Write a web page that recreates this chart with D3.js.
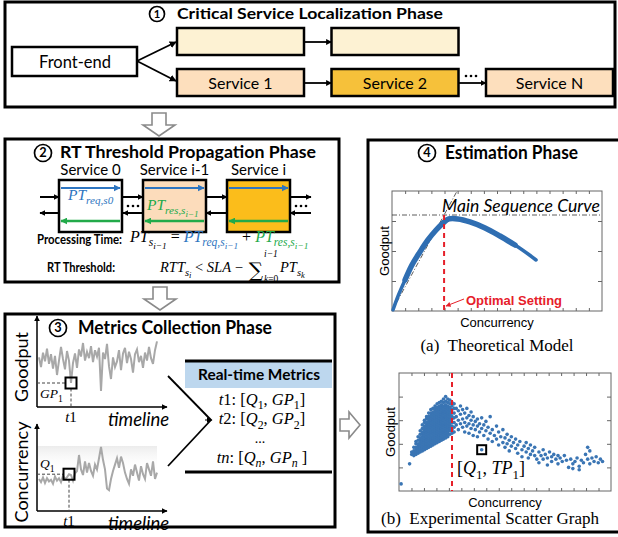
<!DOCTYPE html>
<html>
<head>
<meta charset="utf-8">
<script src="https://cdn.jsdelivr.net/npm/d3@7"></script>
<style>
  body { margin: 0; background: #fff; }
  svg { display: block; }
</style>
</head>
<body>
<div id="fig"></div>
<script>
// ---------- data ----------
var topRowLabels = ["", ""];
var bottomRowLabels = ["Service 1", "Service 2", "Service N"];
var rtServices = ["Service 0", "Service i-1", "Service i"];

// goodput / concurrency samples over the timeline (phase 3)
var goodputSeries = [62,50,68,57,73,54,66,48,64,40, 58,75,60,47,70,58,30,55,67,49,
                     72,63,80,58,69,61,76,56,71,63, 74,20,68,60,79,51,35,62,50,57,
                     71,46,67,74,55,69,60,43,66,72, 56,64,49,68,58,75,61,54,71,82];
var concurrencySeries = [40,36,42,35,41,37,39,34,43,38, 41,36,44,40,42,46,45,38,47,50,
                         70,52,45,62,48,60,50,44,58,52, 66,80,64,52,28,26,40,50,58,66,
                         54,68,60,48,40,34,52,44,58,48, 38,56,46,40,60,52,44,62,40,48];
var gpSampleIdx = 16, qSampleIdx = 15;
var metricTimes = ["t", "t", "...", "t"];
var metricIdx = ["1", "2", "", "n"];

// theoretical main sequence curve [concurrency, goodput]
var theoryCurve = [[0.5,1],[2.9,12.5],[6.2,25.8],[9.5,38.3],[13.3,49.2],[17.1,59.2],
                   [21,67.5],[24.3,73.3],[27.1,76.7],[31.4,76.7],[37.1,74.2],[44.3,69.2],
                   [51.4,62.5],[58.6,55],[64.8,47.5],[68.6,42.5]];
var theoryOptimal = 24.8;
var theoryPeakLevel = 80;
var theorySlope = [[0, 0], [31, 100]];

// experimental scatter: dense cluster columns [concurrency, [goodput...]]
var clusterCols = [
  [6, [31,33]],
  [7, [30,32,34,37]],
  [8, [31,33,35,37,40,42]],
  [9, [32,34,36,38,40,43,46]],
  [10, [33,35,37,39,41,43,45,48,51]],
  [11, [34,36,38,40,42,44,46,48,50,53,56]],
  [12, [35,37,39,41,43,45,47,49,51,53,55,58,60]],
  [13, [36,38,40,42,44,46,48,50,52,54,56,58,61,63]],
  [14, [37,39,41,43,45,47,49,51,53,55,57,59,61,63,66]],
  [15, [38,40,42,44,46,48,50,52,54,56,58,60,62,64,66,69]],
  [16, [39,41,43,45,47,49,51,53,55,57,59,61,63,65,67,70]],
  [17, [40,42,44,46,48,50,52,54,56,58,60,62,64,66,68,70,72]],
  [18, [41,43,45,47,49,51,53,55,57,59,61,63,65,67,69,71,74]],
  [19, [42,44,46,48,50,52,54,56,58,60,62,64,66,68,70,72,75]],
  [20, [43,45,47,49,51,53,55,57,59,61,63,65,67,69,71,73,76]],
  [21, [44,46,48,50,52,54,56,58,60,62,64,66,68,70,72,75,78]],
  [22, [45,47,49,51,53,55,57,59,61,63,65,67,69,71,73,76,80]],
  [23, [46,48,50,52,54,56,58,60,62,64,66,68,70,72,75,78]],
  [24, [48,51,53,55,57,59,61,63,65,67,69,71,74,77]],
  [25, [49,52,55,58,61,63,66,69,72,75]],
  [26, [50,54,58,62,66,70]]
];
var scatterTail = [
  [26,74],[27,70],[27,63],[27,56],[28,68],[28,60],[28,52],[29,72],[29,65],[29,57],
  [30,69],[30,61],[30,54],[31,66],[31,58],[31,50],[32,70],[32,62],[32,55],[33,64],
  [33,57],[33,49],[34,67],[34,60],[34,53],[35,63],[35,56],[35,47],
  [36,59],[36,52],[37,61],[37,55],[37,46],[38,57],[38,50],[39,62],[39,53],[40,56],
  [40,47],[41,59],[41,51],[42,54],[42,44],[43,63],[43,49],[44,52],[44,42],[45,47],
  [46,55],[46,44],[47,50],[47,39],[48,46],[49,52],[49,41],[50,45],[50,37],
  [51,48],[51,40],[52,43],[52,34],[53,46],[53,38],[54,41],[55,36],[55,44],[56,39],
  [56,32],[57,42],[58,35],[58,29],[59,38],[60,33],[60,41],[61,36],[61,28],[62,39],
  [62,31],[63,34],[64,30],[64,37],[65,27],[66,33],[66,24],[67,30],[68,35],[68,27],
  [69,31],[70,28],[70,22],
  [71,33],[72,29],[72,25],[73,31],[74,27],[75,30],[75,23],[76,28],[77,25],[78,30],
  [79,26],[80,20],[81,27],[82,23],[82,19],[83,25],[84,28],[85,21],[85,18],[86,26],
  [87,24],[88,31],[89,37],[89,27],[90,34],[90,23],[91,28],[92,25],[93,29],[94,24],
  [95,27],[96,25],[1,6],[5,23],[39,35]
];
var scatterOptimal = 25;
var scatterSample = [39, 35];

// ---------- setup ----------
var SANS = "Lato, 'Open Sans', sans-serif";
var MATH = "'Liberation Serif', 'DejaVu Serif', serif";
var ARIAL = "'Liberation Sans', Arial, sans-serif";
var BLUE = "#2e75c0", GREEN = "#22aa4a", RED = "#e6202a";

var svg = d3.select("#fig").append("svg").attr("width", 618).attr("height", 537);
var defs = svg.append("defs");

function marker(id, color, size) {
  defs.append("marker").attr("id", id).attr("viewBox", "0 0 10 10")
    .attr("refX", 9).attr("refY", 5)
    .attr("markerWidth", size).attr("markerHeight", size)
    .attr("markerUnits", "userSpaceOnUse").attr("orient", "auto")
    .append("path").attr("d", "M0,0 L10,5 L0,10 Z").attr("fill", color);
}
marker("ahBlack", "#000", 7);
marker("ahSmall", "#000", 6);
marker("ahBlue", BLUE, 7);
marker("ahGreen", GREEN, 7);
marker("ahRed", RED, 5);

var grad = defs.append("linearGradient").attr("id", "band").attr("x1", 0).attr("x2", 0).attr("y1", 0).attr("y2", 1);
grad.append("stop").attr("offset", "0%").attr("stop-color", "#ececec");
grad.append("stop").attr("offset", "100%").attr("stop-color", "#fff").attr("stop-opacity", 0);

function rect(g, x, y, w, h, fill, sw) {
  return g.append("rect").attr("x", x).attr("y", y).attr("width", w).attr("height", h)
    .attr("fill", fill).attr("stroke", "#000").attr("stroke-width", sw);
}

function arrow(g, x1, y1, x2, y2, color, w, m) {
  return g.append("line").attr("x1", x1).attr("y1", y1).attr("x2", x2).attr("y2", y2)
    .attr("stroke", color).attr("stroke-width", w)
    .attr("marker-end", m ? "url(#" + m + ")" : null);
}

function label(g, x, cy, str, o) {
  o = o || {};
  var size = o.size || 14;
  var t = g.append("text")
    .attr("x", x).attr("y", cy + size * 0.35)
    .attr("font-family", o.family || SANS)
    .attr("font-size", size)
    .attr("font-weight", o.weight || 400)
    .attr("font-style", o.style || "normal")
    .attr("text-anchor", o.anchor || "start")
    .attr("fill", o.fill || "#000")
    .style("white-space", "pre")
    .text(str);
  if (o.len) t.attr("textLength", o.len).attr("lengthAdjust", "spacingAndGlyphs");
  if (o.rotate) t.attr("transform", "rotate(" + o.rotate + "," + x + "," + cy + ")");
  return t;
}

function circled(g, cx, cy, r, n) {
  g.append("circle").attr("cx", cx).attr("cy", cy).attr("r", r)
    .attr("fill", "#fff").attr("stroke", "#000").attr("stroke-width", 1.7);
  label(g, cx, cy, n, { size: r * 1.5, weight: 700, anchor: "middle" });
}

// math text: parts [text, level(0/1/2), color, upright]
function math(g, x, y, parts, size, anchor) {
  var t = g.append("text").attr("x", x).attr("y", y)
    .attr("font-family", MATH).attr("font-size", size)
    .attr("text-anchor", anchor || "start").style("white-space", "pre");
  var cur = 0;
  parts.forEach(function(p) {
    var lvl = p[1] || 0;
    var off = [0, 0.26, 0.42][lvl] * size;
    t.append("tspan").attr("dy", off - cur)
      .attr("font-size", [1, 0.72, 0.58][lvl] * size)
      .attr("font-style", p[3] ? "normal" : "italic")
      .attr("fill", p[2] || "#000").text(p[0]);
    cur = off;
  });
  return t;
}

function hollowDown(g, cx, y0, y1) {
  var hl = 11, sw = 7, hw = 16;
  g.append("polygon").attr("points", [
    [cx - sw, y0], [cx + sw, y0], [cx + sw, y1 - hl], [cx + hw, y1 - hl],
    [cx, y1], [cx - hw, y1 - hl], [cx - sw, y1 - hl]].join(" "))
    .attr("fill", "#fff").attr("stroke", "#8a8a8a").attr("stroke-width", 1.6);
}

// ---------- phase 1 ----------
var p1 = svg.append("g");
rect(p1, 5, 2, 610, 105, "#fff", 3);
circled(p1, 157, 14, 7.5, "1");
label(p1, 177, 14, "Critical Service Localization Phase", { size: 15.5, weight: 700, len: 266 });

rect(p1, 12, 47, 125, 29, "#fff", 2.5);
label(p1, 75, 62, "Front-end", { size: 16.5, anchor: "middle" });

var colX = d3.scalePoint().domain(d3.range(3)).range([177, 486]);
var boxW = 127, boxH = 27;
var topFill = "#fdf2d3", bottomFills = ["#fddfbd", "#f6c13a", "#fddfbd"];
topRowLabels.forEach(function(s, i) {
  rect(p1, colX(i), 28, boxW, boxH, topFill, 2.5);
});
bottomRowLabels.forEach(function(s, i) {
  rect(p1, colX(i), 69, boxW, boxH, bottomFills[i], 2.5);
  label(p1, colX(i) + boxW / 2, 83, s, { size: 16, anchor: "middle" });
});
arrow(p1, 137, 61, 176, 42, "#000", 1.8, "ahBlack");
arrow(p1, 137, 61, 176, 81, "#000", 1.8, "ahBlack");
arrow(p1, colX(0) + boxW, 42, colX(1), 42, "#000", 1.8, "ahSmall");
arrow(p1, colX(0) + boxW, 83, colX(1), 83, "#000", 1.8, "ahSmall");
arrow(p1, colX(1) + boxW, 83, colX(2), 83, "#000", 1.8, "ahSmall");
[466, 471, 476].forEach(function(x) {
  p1.append("circle").attr("cx", x).attr("cy", 76).attr("r", 1.3).attr("fill", "#000");
});

hollowDown(svg, 159, 113, 136);

// ---------- phase 2 ----------
var p2 = svg.append("g");
rect(p2, 5, 139, 334, 143, "#fff", 3);
circled(p2, 43, 153, 8.5, "2");
label(p2, 60, 152, "RT Threshold Propagation Phase", { size: 17.5, weight: 700, len: 256 });

var rtX = [59, 143, 227], rtW = 63, rtFills = ["#fff", "#fcdcbb", "#fbbd1b"];
rtServices.forEach(function(s, i) {
  label(p2, rtX[i] + rtW / 2, 170, s, { size: 15, anchor: "middle" });
  rect(p2, rtX[i], 180, rtW, 52, rtFills[i], 2.5);
  arrow(p2, rtX[i] + 2, 188, rtX[i] + rtW - 2, 188, BLUE, 2, "ahBlue");
  arrow(p2, rtX[i] + rtW - 2, 221, rtX[i] + 2, 221, GREEN, 2.4, "ahGreen");
});
var gaps = [[40, 59], [123, 143], [206, 227], [290, 311]];
gaps.forEach(function(gp) {
  arrow(p2, gp[0], 197, gp[1], 197, "#000", 2, "ahSmall");
  arrow(p2, gp[1], 213, gp[0], 213, "#000", 2, "ahSmall");
});
[[133, 206], [301, 206]].forEach(function(c) {
  [-5, 0, 5].forEach(function(d) {
    p2.append("circle").attr("cx", c[0] + d).attr("cy", c[1]).attr("r", 1.3).attr("fill", "#000");
  });
});
math(p2, 68, 200, [["PT", 0, BLUE], ["req,s0", 1, BLUE]], 15.5);
math(p2, 147, 210, [["PT", 0, GREEN], ["res,s", 1, GREEN], ["i\u22121", 2, GREEN]], 15.5);

label(p2, 37, 240, "Processing Time:", { size: 12.5, weight: 700, len: 85 });
math(p2, 130, 242, [["PT", 0], ["s", 1], ["i\u22121", 2], [" = ", 0, "#000", true],
  ["PT", 0, BLUE], ["req,s", 1, BLUE], ["i\u22121", 2, BLUE], [" + ", 0, "#000", true],
  ["PT", 0, GREEN], ["res,s", 1, GREEN], ["i\u22121", 2, GREEN]], 16);

label(p2, 47, 268, "RT Threshold:", { size: 12.5, weight: 700, len: 68 });
math(p2, 160, 272, [["RTT", 0], ["s", 1], ["i", 2], [" < ", 0, "#000", true], ["SLA", 0],
  [" \u2212", 0, "#000", true]], 14.5);
p2.append("text").attr("x", 256).attr("y", 277).attr("text-anchor", "middle")
  .attr("font-family", "'DejaVu Serif', serif").attr("font-size", 20).text("\u2211");
math(p2, 264, 257, [["i\u22121", 0]], 9.5, "start");
math(p2, 264, 282, [["k", 0], ["=0", 0, "#000", true]], 9.5, "start");
math(p2, 280, 272, [["PT", 0], ["s", 1], ["k", 2]], 14.5);

hollowDown(svg, 160, 287, 310);

// ---------- phase 3 ----------
var p3 = svg.append("g");
rect(p3, 5, 314, 330, 213, "#fff", 3);
circled(p3, 58, 328, 8.5, "3");
label(p3, 78, 328, "Metrics Collection Phase", { size: 18, weight: 700, len: 194 });

function miniChart(g, series, y0, yTop, sIdx, axisLabel, labelCy, valLabel, valCy) {
  var x = d3.scaleLinear().domain([0, series.length - 1]).range([39, 157]);
  var y = d3.scaleLinear().domain([0, 100]).range([y0, y0 - 80]);
  arrow(g, 37, y0, 37, yTop, "#000", 1.5, "ahSmall");
  arrow(g, 37, y0, 167, y0, "#000", 1.5, "ahSmall");
  g.append("path").datum(series)
    .attr("d", d3.line().x(function(d, i) { return x(i); }).y(function(d) { return y(d); }))
    .attr("fill", "none").attr("stroke", "#a8a8a8").attr("stroke-width", 2);
  var bx = x(sIdx), by = y(series[sIdx]);
  g.append("line").attr("x1", 37).attr("y1", by).attr("x2", bx - 5.5).attr("y2", by)
    .attr("stroke", "#444").attr("stroke-width", 1).attr("stroke-dasharray", "3,2");
  g.append("line").attr("x1", bx).attr("y1", by + 5.5).attr("x2", bx).attr("y2", y0)
    .attr("stroke", "#444").attr("stroke-width", 1).attr("stroke-dasharray", "3,2");
  g.append("rect").attr("x", bx - 5.5).attr("y", by - 5.5).attr("width", 11).attr("height", 11)
    .attr("fill", "none").attr("stroke", "#000").attr("stroke-width", 2);
  label(g, 22, labelCy, axisLabel, { size: 18, anchor: "middle", rotate: -90 });
  math(g, 40, valCy + 4, valLabel, 13.5);
  math(g, bx, y0 + 15, [["t", 0], ["1", 0, "#000", true]], 15, "middle");
  label(g, 108, y0 + 13, "timeline", { size: 18.5, style: "italic" });
}
p3.append("rect").attr("x", 38).attr("y", 446).attr("width", 119).attr("height", 26).attr("fill", "url(#band)");
miniChart(p3, goodputSeries, 407, 316, gpSampleIdx, "Goodput", 367, [["GP", 0], ["1", 1, "#000", true]], 394);
miniChart(p3, concurrencySeries, 511, 424, qSampleIdx, "Concurrency", 472, [["Q", 0], ["1", 1, "#000", true]], 464);

arrow(p3, 168, 376, 211, 420, "#000", 1.8, null);
arrow(p3, 168, 466, 211, 420, "#000", 1.8, null);
arrow(p3, 205, 420, 212, 420, "#000", 1, "ahSmall");

p3.append("rect").attr("x", 185).attr("y", 362).attr("width", 147).attr("height", 26).attr("fill", "#bdd7ee");
p3.append("line").attr("x1", 185).attr("x2", 332).attr("y1", 361).attr("y2", 361).attr("stroke", "#000").attr("stroke-width", 3);
p3.append("line").attr("x1", 185).attr("x2", 332).attr("y1", 472).attr("y2", 472).attr("stroke", "#000").attr("stroke-width", 3);
label(p3, 259, 375, "Real-time Metrics", { size: 15, weight: 700, anchor: "middle", len: 122 });
var rowY = d3.scalePoint().domain(d3.range(metricTimes.length)).range([405, 463]);
metricTimes.forEach(function(t, i) {
  if (t === "...") {
    label(p3, 260, rowY(i) - 6, "...", { size: 14, anchor: "middle", family: MATH });
    return;
  }
  var k = metricIdx[i], up = k !== "n";
  math(p3, 262, rowY(i), [["t", 0], [k, 0, "#000", up], [": [", 0, "#000", true], ["Q", 0], [k, 1, "#000", up],
    [", ", 0, "#000", true], ["GP", 0], [k, 1, "#000", up], [k === "n" ? " ]" : "]", 0, "#000", true]], 16.5, "middle");
});

// hollow arrow to phase 4
svg.append("polygon").attr("points", [[340, 419], [349, 419], [349, 412], [360, 425], [349, 438], [349, 431], [340, 431]].join(" "))
  .attr("fill", "#fff").attr("stroke", "#8a8a8a").attr("stroke-width", 1.6);

// ---------- phase 4 ----------
var p4 = svg.append("g");
rect(p4, 368, 140, 256, 392, "#fff", 3);
circled(p4, 427, 153, 8.5, "4");
label(p4, 445, 153, "Estimation Phase", { size: 18, weight: 700, len: 133 });

function frame(g, x, y, xt, yt) {
  g.append("rect").attr("x", x.range()[0]).attr("y", y.range()[1])
    .attr("width", x.range()[1] - x.range()[0]).attr("height", y.range()[0] - y.range()[1])
    .attr("fill", "none").attr("stroke", "#666").attr("stroke-width", 1);
  var axes = [
    [d3.axisBottom(x).tickValues(xt), "translate(0," + y.range()[0] + ")"],
    [d3.axisTop(x).tickValues(xt), "translate(0," + y.range()[1] + ")"],
    [d3.axisLeft(y).tickValues(yt), "translate(" + x.range()[0] + ",0)"],
    [d3.axisRight(y).tickValues(yt), "translate(" + x.range()[1] + ",0)"]
  ];
  axes.forEach(function(a, i) {
    var ax = g.append("g").attr("transform", a[1])
      .call(a[0].tickSize(i < 2 ? -3 : -4).tickFormat(""));
    ax.select(".domain").remove();
    ax.selectAll("line").attr("stroke", "#666");
  });
}

// (a) theoretical model
var tx = d3.scaleLinear().domain([0, 100]).range([392, 602]);
var ty = d3.scaleLinear().domain([0, 100]).range([311, 191]);
frame(p4, tx, ty, d3.range(6.25, 100, 6.25), [25, 50, 75]);
p4.append("line").attr("x1", tx(0)).attr("x2", tx(100)).attr("y1", ty(theoryPeakLevel)).attr("y2", ty(theoryPeakLevel))
  .attr("stroke", "#333").attr("stroke-width", 0.8).attr("stroke-dasharray", "5,2,1,2");
p4.append("line").attr("x1", tx(theorySlope[0][0])).attr("y1", ty(theorySlope[0][1]))
  .attr("x2", tx(theorySlope[1][0])).attr("y2", ty(theorySlope[1][1]))
  .attr("stroke", "#333").attr("stroke-width", 0.8).attr("stroke-dasharray", "5,2,1,2");
var curveLine = d3.line().curve(d3.curveCatmullRom).x(function(d) { return tx(d[0]); }).y(function(d) { return ty(d[1]); });
p4.append("path").datum(theoryCurve).attr("d", curveLine)
  .attr("fill", "none").attr("stroke", "#2f6eb2").attr("stroke-width", 3.5).attr("stroke-linecap", "round");
p4.append("path").datum(theoryCurve.slice(2, 14)).attr("d", curveLine)
  .attr("fill", "none").attr("stroke", "#2f6eb2").attr("stroke-width", 5.5).attr("stroke-linecap", "round");
p4.append("line").attr("x1", tx(theoryOptimal)).attr("x2", tx(theoryOptimal))
  .attr("y1", ty(theoryPeakLevel)).attr("y2", ty(0))
  .attr("stroke", RED).attr("stroke-width", 2).attr("stroke-dasharray", "5,4");
label(p4, 442, 206, "Main Sequence Curve", { size: 17, style: "italic", len: 158 });
label(p4, 466, 300, "Optimal Setting", { size: 13, weight: 700, family: ARIAL, fill: RED });
arrow(p4, 464, 299, tx(theoryOptimal) + 2, 306, RED, 1, "ahRed");
label(p4, 384, 251, "Goodput", { size: 13, family: ARIAL, anchor: "middle", rotate: -90 });
label(p4, 497, 322, "Concurrency", { size: 13, family: ARIAL, anchor: "middle" });
label(p4, 497, 345, "(a)\u00a0 Theoretical Model", { size: 17, family: MATH, anchor: "middle" });

// (b) experimental scatter
var sx = d3.scaleLinear().domain([0, 100]).range([399, 611]);
var sy = d3.scaleLinear().domain([0, 100]).range([491, 373]);
frame(p4, sx, sy, d3.range(100 / 17, 99, 100 / 17), [20, 40, 60, 80]);
var pts = [];
clusterCols.forEach(function(c) { c[1].forEach(function(v) { pts.push([c[0], v]); }); });
pts = pts.concat(scatterTail);
p4.append("g").selectAll("circle").data(pts).enter().append("circle")
  .attr("cx", function(d) { return sx(d[0]); }).attr("cy", function(d) { return sy(d[1]); })
  .attr("r", 1.8).attr("fill", "#3a75b4");
p4.append("line").attr("x1", sx(scatterOptimal)).attr("x2", sx(scatterOptimal))
  .attr("y1", sy(100)).attr("y2", sy(0))
  .attr("stroke", RED).attr("stroke-width", 2).attr("stroke-dasharray", "5,4");
p4.append("rect").attr("x", sx(scatterSample[0]) - 4.5).attr("y", sy(scatterSample[1]) - 4.5)
  .attr("width", 9).attr("height", 9).attr("fill", "none").attr("stroke", "#000").attr("stroke-width", 2);
math(p4, 457, 474, [["[", 0, "#000", true], ["Q", 0], ["1", 1, "#000", true], [", ", 0, "#000", true],
  ["TP", 0], ["1", 1, "#000", true], ["]", 0, "#000", true]], 18);
label(p4, 390, 432, "Goodput", { size: 13, family: ARIAL, anchor: "middle", rotate: -90 });
label(p4, 505, 502, "Concurrency", { size: 13, family: ARIAL, anchor: "middle" });
label(p4, 381, 518, "(b)\u00a0 Experimental Scatter Graph", { size: 17, family: MATH });
</script>
</body>
</html>
